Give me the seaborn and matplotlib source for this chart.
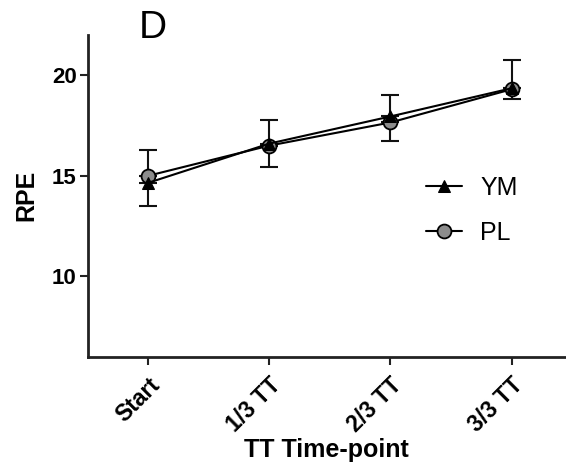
import matplotlib
matplotlib.use("Agg")
import matplotlib.pyplot as plt
import seaborn as sns
import pandas as pd
import numpy as np

categories = ["Start", "1/3 TT", "2/3 TT", "3/3 TT"]
ym_mean = [14.65, 16.6, 17.95, 19.35]
pl_mean = [15.0, 16.5, 17.65, 19.3]
# one-sided SD bars (GraphPad style): lower / upper
ym_err_lo = [1.15, 0.0, 0.0, 0.0]
ym_err_hi = [0.0, 1.15, 1.05, 0.0]
pl_err_lo = [0.0, 1.05, 0.92, 0.5]
pl_err_hi = [1.3, 0.0, 0.0, 1.45]

sns.set_style("ticks")
plt.rcParams['font.family'] = ['Liberation Sans', 'DejaVu Sans']
plt.rcParams['text.color'] = 'black'
plt.rcParams['axes.labelcolor'] = 'black'
plt.rcParams['xtick.color'] = 'black'
plt.rcParams['ytick.color'] = 'black'

df = pd.DataFrame({
    "x": list(range(4)) * 2,
    "RPE": pl_mean + ym_mean,
    "group": ["PL"] * 4 + ["YM"] * 4,
})

fig = plt.figure(figsize=(5.66, 4.72), dpi=100)
ax = fig.add_axes([0.155, 0.2443, 0.845, 0.6815])

x = np.arange(4)
ax.errorbar(x, pl_mean, yerr=[pl_err_lo, pl_err_hi], fmt='none', ecolor='#111111',
            elinewidth=1.5, capsize=6.5, capthick=1.5, zorder=2)
ax.errorbar(x, ym_mean, yerr=[ym_err_lo, ym_err_hi], fmt='none', ecolor='#111111',
            elinewidth=1.5, capsize=6.5, capthick=1.5, zorder=2)

sns.lineplot(data=df[df.group == "PL"], x="x", y="RPE", ax=ax, color='black',
             linewidth=1.5, marker='o', markersize=10, markerfacecolor='#8c8c8c',
             markeredgecolor='black', markeredgewidth=1.3, label='PL', zorder=3)
sns.lineplot(data=df[df.group == "YM"], x="x", y="RPE", ax=ax, color='black',
             linewidth=1.5, marker='^', markersize=9, markerfacecolor='black',
             markeredgecolor='black', label='YM', zorder=4)

ax.set_xlim(-0.5, 3.45)
ax.set_ylim(6, 22)
ax.set_yticks([10, 15, 20])
ax.set_xticks(x)
ax.set_xticklabels(categories, rotation=45, ha='right', va='top',
                   rotation_mode='anchor', fontsize=16.5, fontweight='bold')
for lab in ax.get_yticklabels():
    lab.set_fontsize(16)
    lab.set_fontweight('bold')

ax.set_xlabel("TT Time-point", fontsize=18, fontweight='bold', labelpad=1)
ax.set_ylabel("RPE", fontsize=18, fontweight='bold', labelpad=10)

sns.despine(ax=ax)
for sp in ['left', 'bottom']:
    ax.spines[sp].set_linewidth(2)
    ax.spines[sp].set_color('#222222')
ax.tick_params(axis='both', width=1.5, length=6, color='#222222', pad=2)
ax.tick_params(axis='x', pad=6)

handles, labels = ax.get_legend_handles_labels()
order = [labels.index('YM'), labels.index('PL')]
ax.legend([handles[i] for i in order], [labels[i] for i in order],
          loc='center left', bbox_to_anchor=(0.661, 0.455), frameon=False,
          fontsize=18, handlelength=1.44, handletextpad=0.72, labelspacing=0.85)

fig.text(0.245, 0.94, "D", fontsize=28, ha='left', va='center')

fig.savefig("out.png", dpi=100)
